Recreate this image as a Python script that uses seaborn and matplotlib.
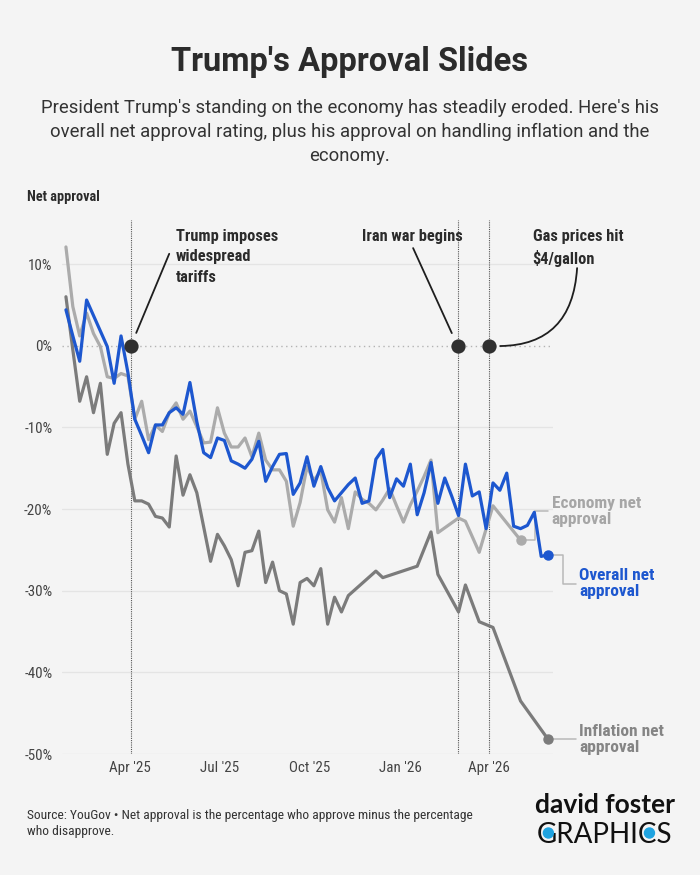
import pandas as pd
import seaborn as sns
import matplotlib.pyplot as plt
import matplotlib.dates as mdates
import matplotlib.transforms as mtransforms
from matplotlib.lines import Line2D
from matplotlib.patches import Circle

# weekly YouGov readings, net approval in %
weeks = pd.date_range("2025-01-26", periods=71, freq="7D")

overall = [4.4, 1.2, -1.9, 5.6, 3.7, 1.8, -0.1, -4.6, 1.2, -3.3,
           -9.0, -11.0, -13.1, -9.7, -9.7, -8.2, -7.6, -8.4, -4.5, -9.3,
           -13.1, -13.7, -11.3, -11.6, -14.1, -14.5, -15.0, -13.9, -11.7, -16.6,
           -14.8, -13.3, -13.2, -18.2, -16.8, -13.6, -17.2, -14.8, -17.4, -19.0,
           -18.0, -17.0, -16.2, -19.3, -19.0, -13.9, -12.7, -18.6, -16.3, -17.2,
           -14.5, -20.7, -18.0, -14.3, -19.3, -16.2, -18.4, -20.8, -14.5, -18.4,
           -17.9, -22.4, -16.8, -17.7, -15.6, -22.1, -22.4, -22.0, -20.4, -25.8,
           -25.6]

economy = [12.1, 4.8, 1.2, 4.0, 1.5, -0.1, -3.8, -4.0, -3.4, -3.7,
           -9.0, -6.8, -11.5, -9.7, -10.5, -8.2, -7.0, -9.0, -8.0, -9.9,
           -11.9, -11.8, -7.6, -10.7, -12.4, -12.4, -11.3, -13.6, -10.7, -14.0,
           -15.2, -15.2, -16.6, -22.1, -19.2, -14.8, -16.5, -15.3, -20.1, -21.6,
           -18.6, -22.4, -17.9, -18.8, -19.3, -20.1, -18.9, -17.5, -19.6, -21.6,
           -19.5, -17.8, -16.0, -14.0, -22.9, None, None, -21.1, -21.5, None,
           -25.3, None, -19.6, None, None, None, -23.8, None, None, None,
           None]

inflation = [6.0, -0.5, -6.8, -3.8, -8.2, -4.6, -13.3, -9.5, -8.2, -14.5,
             -19.0, -19.0, -19.4, -20.9, -21.1, -22.2, -13.5, -18.3, -15.8, -18.0,
             None, -26.4, -23.1, -24.5, -26.2, -29.4, -25.3, -25.1, -22.7, -29.0,
             -26.5, -30.0, -30.4, -34.1, -29.0, -28.5, -29.4, -27.3, -34.1, -30.8,
             -32.6, -30.6, None, None, None, -27.6, -28.4, None, None, None,
             None, -27.0, None, -22.8, -28.0, None, None, -32.6, -29.3, None,
             -33.8, None, -34.5, None, None, None, -43.5, None, None, None,
             -48.2]

series_order = ["Inflation", "Economy", "Overall"]
end_labels = {"Inflation": "Inflation net\napproval",
              "Economy": "Economy net\napproval",
              "Overall": "Overall net\napproval"}
colors = {"Overall": "#1d57cf", "Economy": "#ababab", "Inflation": "#7b7b7b"}
label_colors = {"Overall": "#1d57cf", "Economy": "#a6a6a6", "Inflation": "#858585"}

event_dates = ["2025-04-02", "2026-02-28", "2026-04-01"]
event_labels = ["Trump imposes\nwidespread\ntariffs", "Iran war begins",
                "Gas prices hit\n$4/gallon"]

x_ticks = ["2025-04-01", "2025-07-01", "2025-10-01", "2026-01-01", "2026-04-01"]
y_ticks = [10, 0, -10, -20, -30, -40, -50]

df = pd.concat([
    pd.DataFrame({"date": weeks, "value": vals, "series": name})
    for name, vals in zip(["Overall", "Economy", "Inflation"], [overall, economy, inflation])
])
df["value"] = pd.to_numeric(df["value"])
df = df.dropna()

BG = "#f4f4f4"
DARK = "#2b2b2b"
sns.set_theme(style="white", rc={"axes.facecolor": BG, "figure.facecolor": BG,
                                 "axes.unicode_minus": False})
COND = ["Roboto Condensed", "Liberation Sans Narrow", "Roboto", "DejaVu Sans"]
WIDE = ["Roboto", "DejaVu Sans"]
plt.rcParams["font.family"] = COND

fig = plt.figure(figsize=(7, 8.75), dpi=100)
ax = fig.add_axes([62 / 700, 1 - 754 / 875, 491 / 700, 534 / 875])

# grid
for v in y_ticks:
    if v == 0:
        ax.axhline(v, color="#b3b3b3", lw=1.0, ls=(0, (1, 2.5)), zorder=0)
    else:
        ax.axhline(v, color="#e4e4e4", lw=0.9, zorder=0)

sns.lineplot(data=df, x="date", y="value", hue="series", hue_order=series_order,
             palette=colors, linewidth=2.3, legend=False, errorbar=None,
             estimator=None, ax=ax, zorder=3)

ax.set_xlim(pd.Timestamp("2025-01-22"), pd.Timestamp("2026-06-05"))
ax.set_ylim(-50, 15.4)
ax.set_xticks(pd.to_datetime(x_ticks))
ax.xaxis.set_major_formatter(mdates.DateFormatter("%b '%y"))
ax.set_yticks(y_ticks)
ax.set_yticklabels([f"{v}%" for v in y_ticks])
ax.tick_params(length=0, labelsize=10.8, colors="#444444")
ax.tick_params(axis="y", pad=7)
ax.tick_params(axis="x", pad=5)
ax.set_xlabel("")
ax.set_ylabel("")
sns.despine(ax=ax, left=True, bottom=True)

# event markers
ev = pd.to_datetime(event_dates)
for d in ev:
    ax.axvline(d, color="#555555", lw=0.8, ls=(0, (1, 1)), zorder=2)
ax.scatter(ev, [0] * len(ev), s=105, color="#303030", zorder=6, linewidths=0)

arrow_kw = dict(arrowstyle="-", color="#1e1e1e", lw=1.3, shrinkA=0, shrinkB=10)
txt_kw = dict(textcoords="offset points", va="top", fontsize=11.8, fontweight="bold",
              color=DARK, linespacing=1.44)
ax.annotate("", xy=(ev[0], 0), xytext=(27.6, 66.2), textcoords="offset points",
            arrowprops=arrow_kw)
ax.annotate(event_labels[0], xy=(ev[0], 0), xytext=(32.4, 84), ha="left", **txt_kw)
ax.annotate("", xy=(ev[1], 0), xytext=(-32, 70.3), textcoords="offset points",
            arrowprops=arrow_kw)
ax.annotate(event_labels[1], xy=(ev[1], 0), xytext=(3.6, 84), ha="right", **txt_kw)
ax.annotate("", xy=(ev[2], 0), xytext=(63.4, 55.9), textcoords="offset points",
            arrowprops=dict(arrow_kw, connectionstyle="arc3,rad=-0.5", shrinkB=8))
ax.annotate(event_labels[2], xy=(ev[2], 0), xytext=(31.3, 84), ha="left", **txt_kw)

# end points with leader lines (offsets in pixels from the last point)
leaders = {"Economy": ([(0, 0), (14, 0), (14, 29), (27, 29)], (31, 29)),
           "Overall": ([(0, 0), (15, 0), (15, -29), (28, -29)], (31, -29)),
           "Inflation": ([(0, 0), (28, 0)], (31, 0))}
for name in series_order:
    last = df[df["series"] == name].iloc[-1]
    ax.plot(last["date"], last["value"], "o", ms=6.5, color=colors[name], zorder=7)
    pts, tpos = leaders[name]
    trans = fig.dpi_scale_trans + mtransforms.ScaledTranslation(
        mdates.date2num(last["date"]), last["value"], ax.transData)
    ax.add_line(Line2D([p[0] / 100 for p in pts], [p[1] / 100 for p in pts],
                       transform=trans, color="#b8b8b8", lw=1.1, clip_on=False, zorder=1))
    ax.text(tpos[0] / 100, tpos[1] / 100, end_labels[name], transform=trans,
            ha="left", va="center", fontsize=12.5, fontweight="bold",
            color=label_colors[name], linespacing=1.08, clip_on=False)

# titles and notes
fig.text(0.5, 1 - 62 / 875, "Trump's Approval Slides", ha="center", va="center",
         fontsize=23.5, fontweight="bold", color=DARK, family=WIDE)
fig.text(0.5, 1 - 132 / 875,
         "President Trump's standing on the economy has steadily eroded. Here's his\n"
         "overall net approval rating, plus his approval on handling inflation and the\n"
         "economy.", ha="center", va="center", fontsize=13.3, color="#333333",
         family=WIDE, linespacing=1.42)
fig.text(27 / 700, 1 - 197 / 875, "Net approval", ha="left", va="center",
         fontsize=10.3, fontweight="bold", color=DARK)
fig.text(27 / 700, 1 - 824 / 875,
         "Source: YouGov \u2022 Net approval is the percentage who approve minus the percentage\n"
         "who disapprove.", ha="left", va="center", fontsize=9.7, color="#333333",
         linespacing=1.3)

# logo
fig.text(605 / 700, 1 - 805 / 875, "david foster", ha="center", va="center",
         fontsize=19, fontweight="bold", color="#111111", family=["Lato", "DejaVu Sans"])
logo = fig.text(605 / 700, 1 - 835 / 875, "GRAPHICS", ha="center", va="center",
                fontsize=20, color="#111111", family=["Lato", "DejaVu Sans"])
fig.canvas.draw()
renderer = fig.canvas.get_renderer()
bb = logo.get_window_extent(renderer)
fp = logo.get_fontproperties()
_, _, lp_desc = renderer.get_text_width_height_descent("lp", fp, ismath=False)
cap_mid = bb.y0 + lp_desc + 0.36 * fp.get_size_in_points() * fig.dpi / 72
for before, upto in (("", "G"), ("GRAPHI", "GRAPHIC")):
    w0 = renderer.get_text_width_height_descent(before, fp, ismath=False)[0] if before else 0
    w1 = renderer.get_text_width_height_descent(upto, fp, ismath=False)[0]
    fig.patches.append(Circle((bb.x0 + (w0 + w1) / 2 + 1, cap_mid), 5,
                              transform=None, color="#1fa3e0", zorder=5))

fig.savefig("out.png", dpi=100, facecolor=BG)
